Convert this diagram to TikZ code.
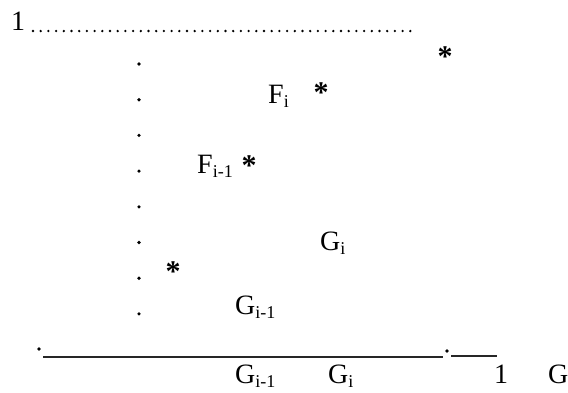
\documentclass[tikz,border=0pt]{standalone}
\usepackage{fontspec}
\setmainfont{Liberation Serif}
\newcommand{\lowsub}[1]{\raisebox{-0.16em}{\fontsize{18}{18}\selectfont #1}}

\begin{document}
\begin{tikzpicture}[x=1pt, y=-1pt, font=\fontsize{28}{32}\selectfont,
  lbl/.style={inner sep=0pt, anchor=base west},
  star/.style={inner sep=0pt, anchor=base, font=\fontsize{30}{32}\selectfont\bfseries},
  spot/.style={circle, fill, inner sep=0pt, minimum size=3.6pt},
  leader/.style={line width=2.6pt, line cap=round, dash pattern=on 0pt off 7.7pt},
  axis/.style={line width=1.6pt, black!85}]
\useasboundingbox (0,0) rectangle (568,392);
% upper bound
\node[lbl] (one) at (11,30) {1};
\coordinate (lead0) at (33,31);
\coordinate (lead1) at (417,31);
\draw[leader] (lead0) -- (lead1);
% dotted column
\foreach \k in {0,...,7}
  \node[spot] (d\k) at (139,64+35.7*\k) {};
% stars
\node[star] (s1) at (445,66) {*};
\node[star] (s2) at (321,102) {*};
\node[star] (s3) at (249,175) {*};
\node[star] (s4) at (173,281) {*};
% labels
\node[lbl] (fi) at (268,103) {F\lowsub{i}};
\node[lbl] (fim) at (197,173) {F\lowsub{i-1}};
\node[lbl] (gi) at (320,250) {G\lowsub{i}};
\node[lbl] (gim) at (235,314) {G\lowsub{i-1}};
% axis
\node[spot] (o) at (39,349) {};
\node[spot] (m) at (447,351) {};
\coordinate (a0) at (43,357);
\coordinate (a1) at (443,357);
\coordinate (a2) at (451,356);
\coordinate (a3) at (497,356);
\draw[axis] (a0) -- (a1);
\draw[axis] (a2) -- (a3);
\node[lbl] (tgim) at (235,383) {G\lowsub{i-1}};
\node[lbl] (tgi) at (328,383) {G\lowsub{i}};
\node[lbl] (tone) at (494,383) {1};
\node[lbl] (tg) at (548,383) {G};
\end{tikzpicture}
\end{document}
